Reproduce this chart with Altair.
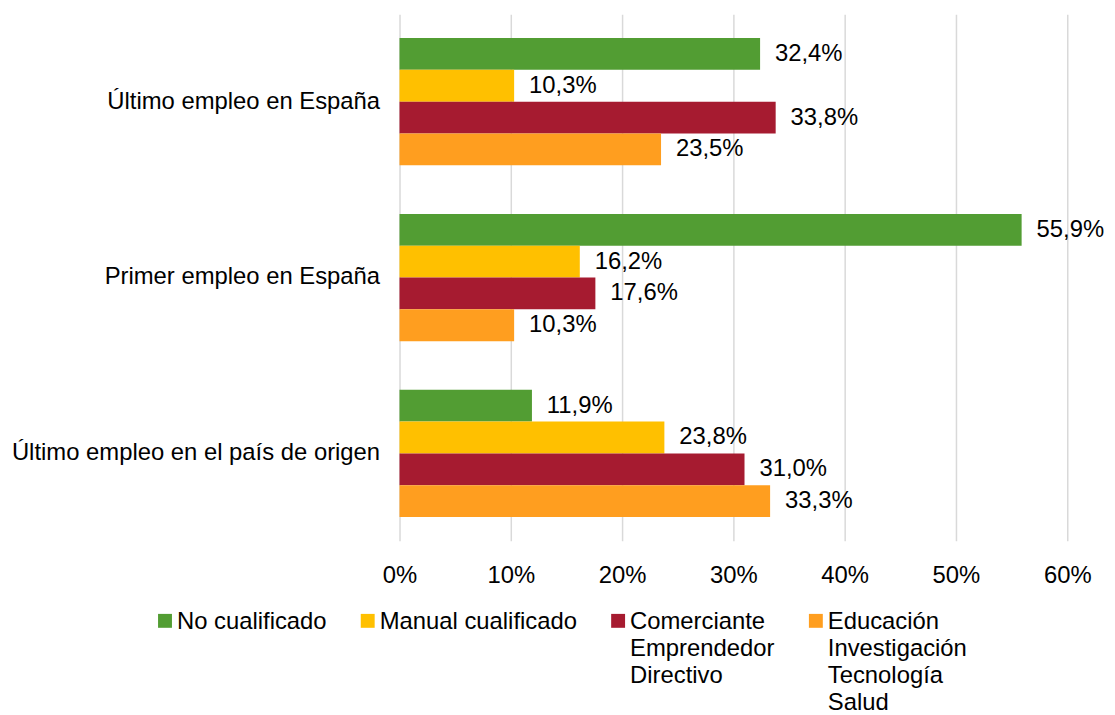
import altair as alt
import pandas as pd

categories = ["Último empleo en España", "Primer empleo en España", "Último empleo en el país de origen"]
series = ["No cualificado", "Manual cualificado", "Comerciante\nEmprendedor\nDirectivo",
          "Educación\nInvestigación\nTecnología\nSalud"]
colors = ["#529D33", "#FFC000", "#A61B30", "#FF9E1F"]
values = {
    "No cualificado": [32.4, 55.9, 11.9],
    "Manual cualificado": [10.3, 16.2, 23.8],
    "Comerciante\nEmprendedor\nDirectivo": [33.8, 17.6, 31.0],
    "Educación\nInvestigación\nTecnología\nSalud": [23.5, 10.3, 33.3],
}
x_ticks = [0, 10, 20, 30, 40, 50, 60]

rows = []
for s in series:
    for c, v in zip(categories, values[s]):
        rows.append({"cat": c, "serie": s, "val": v,
                     "label": f"{v:.1f}%".replace(".", ",")})
df = pd.DataFrame(rows)

FONT = "Liberation Sans"
FS = 24

base = alt.Chart(df).encode(
    y=alt.Y("cat:N", sort=categories, title=None,
            scale=alt.Scale(paddingInner=0.2768, paddingOuter=0.1356),
            axis=alt.Axis(domain=False, ticks=False, labelPadding=20, labelFontSize=FS,
                          labelFont=FONT, labelColor="#000000", labelLimit=500)),
    yOffset=alt.YOffset("serie:N", sort=series, scale=alt.Scale(paddingInner=0, paddingOuter=0)),
)

bars = base.mark_bar().encode(
    x=alt.X("val:Q", title=None,
            scale=alt.Scale(domain=[0, 60], nice=False),
            axis=alt.Axis(values=x_ticks, labelExpr="datum.value + '%'", domain=False, ticks=False,
                          grid=True, gridColor="#D9D9D9", gridWidth=1.5, labelPadding=23,
                          labelFlush=False,
                          labelFontSize=FS, labelFont=FONT, labelColor="#000000")),
    color=alt.Color("serie:N", sort=series, scale=alt.Scale(domain=series, range=colors),
                    legend=alt.Legend(title=None, orient="none", legendX=-251, legendY=588,
                                      direction="horizontal", columns=4, columnPadding=26,
                                      symbolType="M-1,0.5H1V2.5H-1Z", symbolSize=196,
                                      symbolStrokeWidth=0, symbolOffset=3,
                                      symbolOpacity=1, labelFontSize=FS, labelFont=FONT,
                                      labelColor="#000000", labelOffset=0, labelBaseline="top",
                                      labelLimit=400,
                                      labelExpr="slice(split(datum.label + '\\n\\n\\n', '\\n'), 0, 4)")),
)

text = base.mark_text(align="left", baseline="middle", dx=15, fontSize=FS, font=FONT,
                      color="#000000").encode(
    x=alt.X("val:Q"),
    text="label:N",
)

chart = alt.layer(bars, text).properties(
    width=672, height=530,
    autosize=alt.AutoSizeParams(type="none"),
    padding={"left": 394, "top": 4, "right": 40, "bottom": 173},
).configure(style={"guide-label": {"lineHeight": 27}}).configure_view(strokeWidth=0)

chart.save("out.html", embed_options={"renderer": "svg", "actions": False})
